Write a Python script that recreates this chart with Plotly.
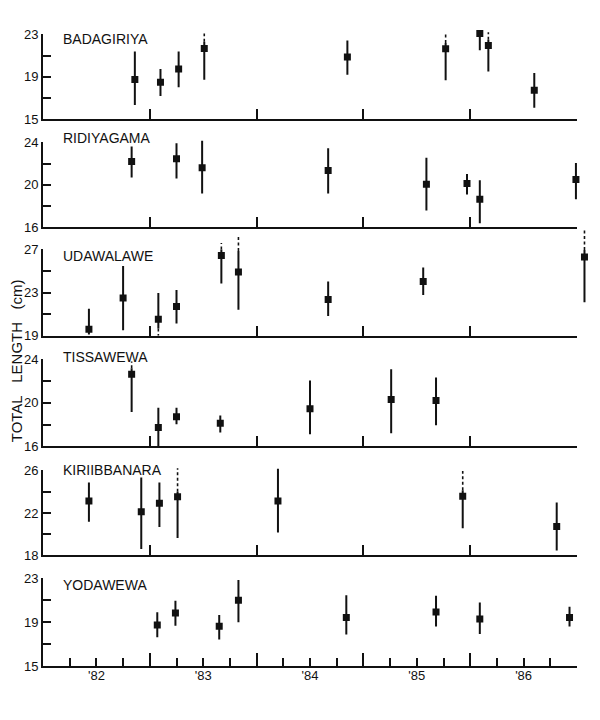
import plotly.graph_objects as go

# ---------------- data ----------------
years_labels = ["'82", "'83", "'84", "'85", "'86"]
year_label_pos = [1982.5, 1983.5, 1984.5, 1985.5, 1986.5]
year_ticks = [1983, 1984, 1985, 1986, 1987]
quarter_ticks = [1982.25, 1982.5, 1982.75, 1983.25, 1983.5, 1983.75, 1984.25, 1984.5, 1984.75,
                 1985.25, 1985.5, 1985.75, 1986.25, 1986.5, 1986.75]

names = ["BADAGIRIYA", "RIDIYAGAMA", "UDAWALAWE", "TISSAWEWA", "KIRIIBBANARA", "YODAWEWA"]
y_ranges = [(15, 23), (16, 24), (19, 27), (16, 24), (18, 26), (15, 23)]

bad_x = [1982.86, 1983.10, 1983.27, 1983.51, 1984.85, 1985.77, 1986.09, 1986.17, 1986.60]
bad_mean = [18.74, 18.49, 19.74, 21.68, 20.86, 21.64, 23.10, 21.95, 17.74]
bad_lo = [16.33, 17.18, 18.02, 18.72, 19.20, 18.68, 21.50, 19.50, 16.08]
bad_hi = [21.40, 19.74, 21.40, 22.30, 22.43, 22.20, 23.10, 22.50, 19.37]
bad_dash_hi = [None, None, None, 23.10, None, 23.20, None, 23.20, None]
bad_dash_lo = [None] * 9

rid_x = [1982.83, 1983.25, 1983.49, 1984.67, 1985.59, 1985.97, 1986.09, 1986.99]
rid_mean = [22.20, 22.45, 21.61, 21.36, 20.06, 20.12, 18.64, 20.50]
rid_lo = [20.68, 20.59, 19.19, 19.19, 17.58, 19.10, 16.40, 18.64]
rid_hi = [23.60, 23.90, 24.15, 23.44, 22.54, 21.02, 20.43, 22.05]
rid_dash_hi = [None] * 8
rid_dash_lo = [None] * 8

uda_x = [1982.43, 1982.75, 1983.08, 1983.25, 1983.67, 1983.83, 1984.67, 1985.56, 1987.07]
uda_mean = [19.61, 22.51, 20.53, 21.72, 26.45, 24.92, 22.36, 24.04, 26.30]
uda_lo = [19.12, 19.52, 19.67, 20.13, 23.85, 21.41, 20.83, 22.79, 22.11]
uda_hi = [21.50, 25.47, 22.97, 23.24, 27.00, 26.85, 24.04, 25.32, 26.94]
uda_dash_hi = [None, None, None, None, 27.60, 28.20, None, None, 28.80]
uda_dash_lo = [None, None, 19.00, None, None, None, None, None, None]

tis_x = [1982.83, 1983.08, 1983.25, 1983.66, 1984.50, 1985.26, 1985.68]
tis_mean = [22.61, 17.72, 18.71, 18.11, 19.44, 20.28, 20.19]
tis_lo = [19.14, 16.00, 18.02, 17.26, 17.11, 17.20, 17.93]
tis_hi = [23.15, 19.53, 19.53, 18.83, 22.04, 23.06, 22.31]
tis_dash_hi = [23.76, None, None, None, None, None, None]
tis_dash_lo = [None] * 7

kir_x = [1982.43, 1982.92, 1983.09, 1983.26, 1984.20, 1985.93, 1986.81]
kir_mean = [23.12, 22.12, 22.90, 23.52, 23.12, 23.58, 20.73]
kir_lo = [21.16, 18.62, 20.67, 19.64, 20.17, 20.57, 18.47]
kir_hi = [24.85, 25.32, 24.85, 23.98, 26.15, 24.14, 22.99]
kir_dash_hi = [None, None, None, 26.20, None, 25.94, None]
kir_dash_lo = [None] * 7

yod_x = [1983.07, 1983.24, 1983.65, 1983.83, 1984.84, 1985.68, 1986.09, 1986.93]
yod_mean = [18.74, 19.83, 18.62, 21.00, 19.43, 19.92, 19.28, 19.43]
yod_lo = [17.62, 18.68, 17.41, 18.98, 17.86, 18.59, 17.92, 18.59]
yod_hi = [19.89, 20.95, 19.65, 22.85, 21.46, 21.40, 20.79, 20.40]
yod_dash_hi = [None] * 8
yod_dash_lo = [None] * 8

panels = [
    (bad_x, bad_mean, bad_lo, bad_hi, bad_dash_hi, bad_dash_lo),
    (rid_x, rid_mean, rid_lo, rid_hi, rid_dash_hi, rid_dash_lo),
    (uda_x, uda_mean, uda_lo, uda_hi, uda_dash_hi, uda_dash_lo),
    (tis_x, tis_mean, tis_lo, tis_hi, tis_dash_hi, tis_dash_lo),
    (kir_x, kir_mean, kir_lo, kir_hi, kir_dash_hi, kir_dash_lo),
    (yod_x, yod_mean, yod_lo, yod_hi, yod_dash_hi, yod_dash_lo),
]

# ---------------- layout geometry (pixels) ----------------
W, H = 600, 720
ML, MR, MT, MB = 43, 5, 4, 54
PH = H - MT - MB
PW = W - ML - MR
X_END_PX = 577                      # pixel where 1987 sits
X0, X1 = 1982, 1987
frame_xdom = (X_END_PX - ML) / PW
data_xmax = X0 + (X1 - X0) * PW / (X_END_PX - ML)
panel_px = [(27.7, 113.3), (136.7, 222.7), (245, 332.3), (355.7, 444), (468.3, 554.3), (577.3, 666)]
label_px = [32.7, 132.3, 251.7, 353.3, 468.3, 584]
EXT_TOP = 22                        # room above each panel for dashed extensions

def py(px):
    return (H - MB - px) / PH

def ax_id(letter, k):
    return letter if k == 1 else f"{letter}{k}"

def ax_key(letter, k):
    return f"{letter}axis" if k == 1 else f"{letter}axis{k}"

INK = "#111111"
FONT = "Liberation Sans, Arial, Helvetica, sans-serif"

fig = go.Figure()
layout = {}
annotations = []

for i, (xs, mean, lo, hi, dhi, dlo) in enumerate(panels):
    top, bot = panel_px[i]
    r0, r1 = y_ranges[i]
    ppu = (bot - top) / (r1 - r0)

    # ---- invisible data axes (1..6): same scale as the frame, extra room, so nothing is clipped
    d = i + 1
    dxa, dya = ax_id("x", d), ax_id("y", d)
    layout[ax_key("x", d)] = dict(domain=[0, 1], range=[X0, data_xmax], anchor=dya,
                                  visible=False, type="linear")
    layout[ax_key("y", d)] = dict(domain=[max(0, py(bot)), py(top - EXT_TOP)],
                                  range=[r0, r1 + EXT_TOP / ppu], anchor=dxa,
                                  visible=False, type="linear")

    up = [h - mv for h, mv in zip(hi, mean)]
    dn = [mv - l for mv, l in zip(mean, lo)]
    ddx, ddy = [], []
    for xv, h, l, dh, dl in zip(xs, hi, lo, dhi, dlo):
        if dh is not None:
            ddx += [xv, xv, None]
            ddy += [h, dh, None]
        if dl is not None:
            ddx += [xv, xv, None]
            ddy += [l, dl, None]
    if ddx:
        fig.add_trace(go.Scatter(
            x=ddx, y=ddy, mode="lines", xaxis=dxa, yaxis=dya,
            line=dict(color=INK, width=1.6, dash="3px,2.5px"),
            showlegend=False, hoverinfo="skip"))
    fig.add_trace(go.Scatter(
        x=xs, y=mean, mode="markers", xaxis=dxa, yaxis=dya,
        marker=dict(symbol="square", size=7, color=INK),
        error_y=dict(type="data", symmetric=False, array=up, arrayminus=dn,
                     width=0, thickness=2, color=INK),
        showlegend=False, hoverinfo="skip"))

    # ---- visible frame axes (7..12)
    f = i + 7
    fxa, fya = ax_id("x", f), ax_id("y", f)
    fig.add_trace(go.Scatter(x=[], y=[], xaxis=fxa, yaxis=fya, showlegend=False, hoverinfo="skip"))
    last = (i == 5)
    xdict = dict(domain=[0, frame_xdom], range=[X0, X1], anchor=fya, type="linear",
                 showline=True, linewidth=2, linecolor=INK, ticks="inside",
                 tickmode="array", tickvals=year_ticks, ticklen=13 if last else 10,
                 tickwidth=2, tickcolor=INK, showticklabels=False, showgrid=False, zeroline=False)
    if last:
        xdict["minor"] = dict(tickmode="array", tickvals=quarter_ticks, ticks="inside",
                              ticklen=8, tickwidth=2, tickcolor=INK, showgrid=False)
    layout[ax_key("x", f)] = xdict
    yt = list(range(r0, r1 + 1, 2))
    ytext = [str(v) if (v - r0) % 4 == 0 else "" for v in yt]
    layout[ax_key("y", f)] = dict(domain=[max(0, py(bot)), py(top)], range=[r0, r1], anchor=fxa,
                                  type="linear", showline=True, linewidth=2, linecolor=INK,
                                  ticks="inside", tickmode="array", tickvals=yt, ticktext=ytext,
                                  ticklen=8, tickwidth=2, tickcolor=INK,
                                  showgrid=False, zeroline=False,
                                  tickfont=dict(family=FONT, size=13, color=INK))

    annotations.append(dict(text=names[i], xref="paper", yref="paper",
                            x=(61 - ML) / PW, y=py(label_px[i]), xanchor="left", yanchor="middle",
                            showarrow=False, font=dict(family=FONT, size=14, color=INK)))

# year labels on an overlaying axis of the bottom frame
fig.add_trace(go.Scatter(x=[], y=[], xaxis="x13", yaxis="y12", showlegend=False, hoverinfo="skip"))
layout["xaxis13"] = dict(overlaying="x12", anchor="y12", side="bottom", range=[X0, X1],
                         type="linear", tickmode="array", tickvals=year_label_pos,
                         ticktext=years_labels, ticks="", showline=False,
                         showgrid=False, zeroline=False,
                         tickfont=dict(family=FONT, size=13, color=INK))

annotations.append(dict(text="TOTAL\u00a0\u00a0\u00a0LENGTH\u00a0\u00a0\u00a0(cm)", xref="paper",
                        yref="paper", x=(16 - ML) / PW, y=py(358), xanchor="center",
                        yanchor="middle", textangle=-90, showarrow=False,
                        font=dict(family=FONT, size=15, color=INK)))

fig.update_layout(width=W, height=H, margin=dict(l=ML, r=MR, t=MT, b=MB),
                  paper_bgcolor="white", plot_bgcolor="rgba(0,0,0,0)",
                  annotations=annotations, **layout)

fig.write_html("out.html")
